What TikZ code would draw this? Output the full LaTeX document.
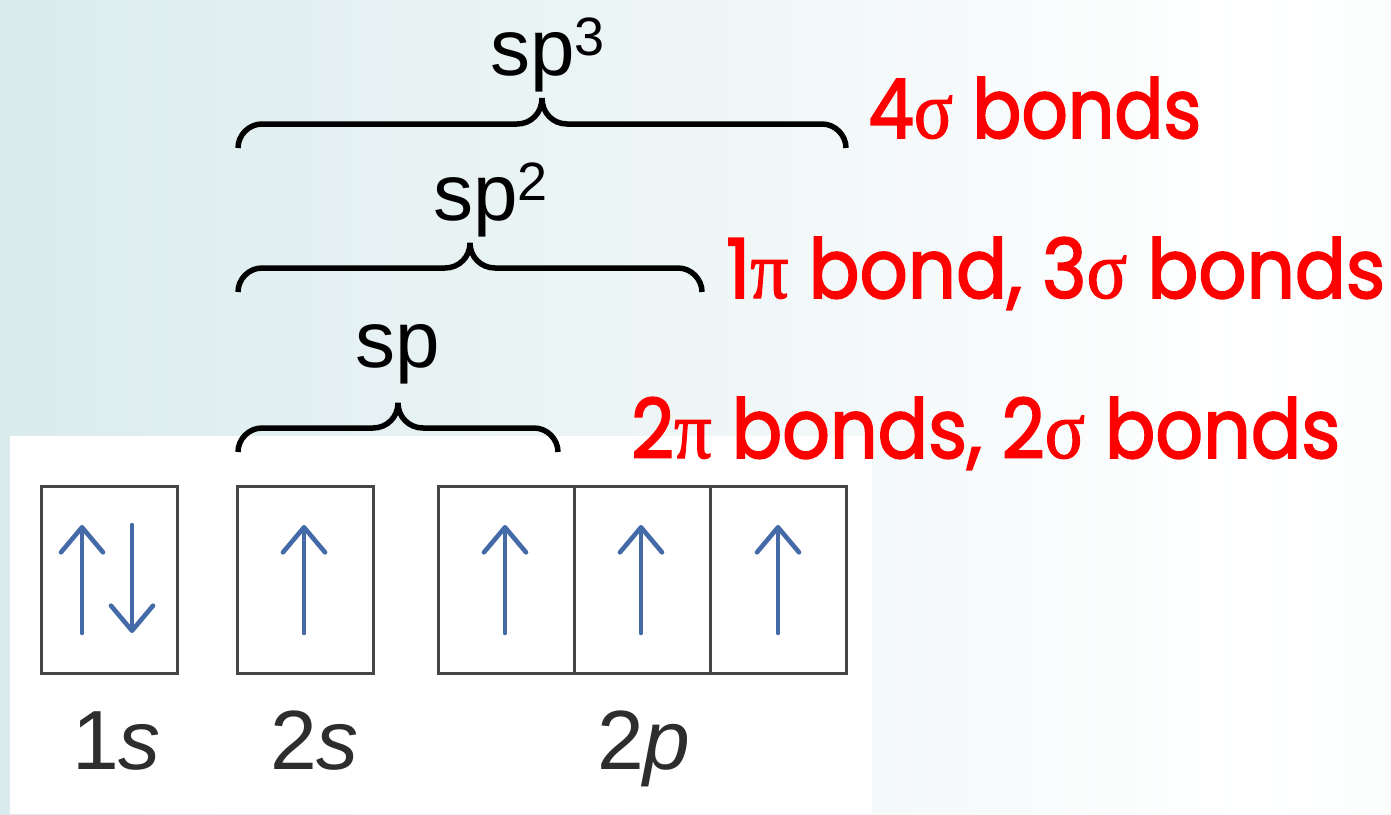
\documentclass[tikz,border=0pt]{standalone}
\usepackage{fontspec}
\setmainfont{Liberation Sans}
\newfontfamily\redfont{Poppins}[FakeBold=2.2]
\newfontfamily\grk{Liberation Serif}[FakeBold=1.5]
\usetikzlibrary{arrows.meta}
\definecolor{spinblue}{RGB}{68,106,168}
\definecolor{boxgray}{RGB}{70,70,70}
\definecolor{labgray}{RGB}{45,45,45}
\definecolor{bgteal}{RGB}{200,225,227}
\definecolor{bondred}{RGB}{255,0,0}
\pgfdeclarehorizontalshading{bgshade}{100bp}{color(0bp)=(bgteal); color(40bp)=(bgteal!45!white); color(70bp)=(white); color(100bp)=(bgteal!40!white)}
\newcommand\hybrace[6]{\draw[bracestyle] (#1,#3) .. controls (#1,{#3-13}) and ({#1+11},#4) .. ({#1+24},#4) -- ({#5-25},#4) .. controls ({#5-11},#4) and (#5,{#4-11}) .. (#5,#6) .. controls (#5,{#4-11}) and ({#5+11},#4) .. ({#5+25},#4) -- ({#2-24},#4) .. controls ({#2-11},#4) and (#2,{#3-13}) .. (#2,#3);}
\begin{document}
\begin{tikzpicture}[x=1pt,y=-1pt,
  orbbox/.style={draw=boxgray, line width=2.8pt, minimum width=136pt, minimum height=187pt, inner sep=0pt, fill=white, anchor=north west},
  spin/.style={draw=spinblue, line width=4.6pt, line cap=round, -{Straight Barb[length=25pt,width=42pt,round]}},
  orblab/.style={font=\fontsize{84}{84}\selectfont, text=labgray, inner sep=0pt, anchor=base west},
  hylab/.style={font=\fontsize{80}{80}\selectfont, text=black, inner sep=0pt, anchor=base west},
  bondtxt/.style={font=\redfont, text=bondred, inner sep=0pt, anchor=base west},
  bracestyle/.style={draw=black, line width=5.5pt}
]
\useasboundingbox (0,0) rectangle (1391,814);
\shade[shading=bgshade] (0,0) rectangle (1391,814);
\fill[white] (10,436) rectangle (872,814);

% orbital boxes
\node[orbbox] (o1s) at (40,485) {};
\node[orbbox] (o2s) at (236,485) {};
\node[orbbox] (opx) at (437,485) {};
\node[orbbox] (opy) at (573,485) {};
\node[orbbox] (opz) at (709,485) {};

% spins
\draw[spin] (82,633) -- (82,525);
\draw[spin] (132,525) -- (132,633);
\draw[spin] (304,633) -- (304,525);
\draw[spin] (505,633) -- (505,525);
\draw[spin] (641,633) -- (641,525);
\draw[spin] (778,633) -- (778,525);

% orbital labels
\node[orblab] (l1s) at (72,769) {1\textit{s}};
\node[orblab] (l2s) at (270,769) {2\textit{s}};
\node[orblab] (l2p) at (597,769) {2\textit{p}};

% braces
\hybrace{238}{558}{452}{428}{398}{403}
\hybrace{238}{702}{292}{268}{470}{243}
\hybrace{238}{846}{148}{124}{542}{98}

% hybrid labels
\node[hylab] (hsp3) at (490,75) {sp\raisebox{20pt}{\fontsize{54}{54}\selectfont 3}};
\node[hylab] (hsp2) at (433,220) {sp\raisebox{20pt}{\fontsize{54}{54}\selectfont 2}};
\node[hylab] (hsp) at (355,367) {sp};

% bond counts
\node[bondtxt] (b3) at (868,138) {\resizebox{333pt}{61pt}{4{\grk σ} bonds}};
\node[bondtxt] (b2) at (726,298) {\resizebox{659pt}{61pt}{1{\grk π} bond, 3{\grk σ} bonds}};
\node[bondtxt] (b1) at (631,458) {\resizebox{709pt}{61pt}{2{\grk π} bonds, 2{\grk σ} bonds}};
\end{tikzpicture}
\end{document}
